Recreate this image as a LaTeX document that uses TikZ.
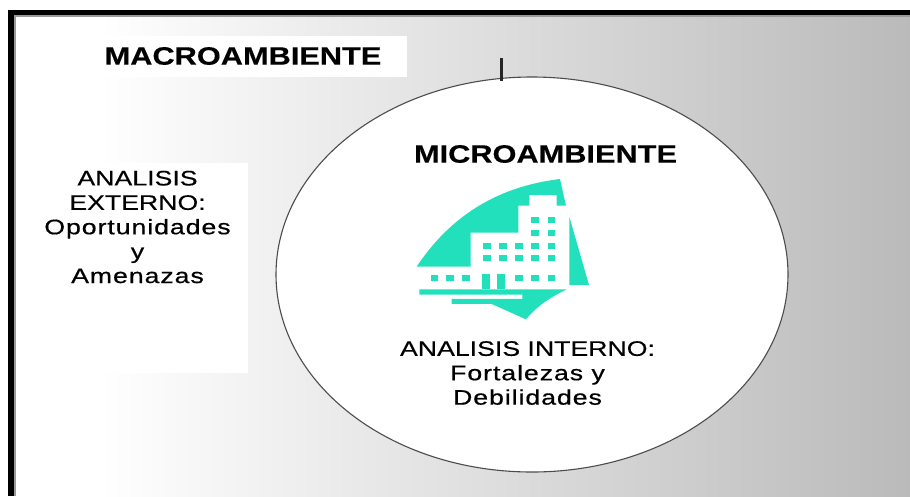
\documentclass[tikz,border=0pt]{standalone}
\usepackage{fontspec}
\setmainfont[FakeStretch=1.22,FakeBold=0.3]{Liberation Sans}
\newfontfamily\capsfont[FakeStretch=1.27,FakeBold=0.3]{Liberation Sans}
\newfontfamily\spacedfont[FakeStretch=1.27,FakeBold=0.6,LetterSpace=4.5]{Liberation Sans}
\usetikzlibrary{shapes.geometric}
\definecolor{tealgreen}{HTML}{22E0BC}
\tikzset{
    boldlabel/.style={font=\bfseries\fontsize{25.2}{25.2}\selectfont, inner sep=0pt},
    textlabel/.style={font=\fontsize{21}{24.4}\selectfont, align=center, inner sep=0pt},
    whitebox/.style={fill=white, draw=none},
    window/.style={fill=tealgreen, draw=none},
}
\begin{document}
\begin{tikzpicture}[x=1pt, y=-1pt]
    \useasboundingbox (0,0) rectangle (910,496);
    \fill[white] (0,0) rectangle (910,496);

    % background
    \shade[left color=white, middle color=black!11, right color=black!27] (100,17) rectangle (910,496);
    \fill[white] (16,17) rectangle (100,496);
    \fill[whitebox] (98,36) rectangle (407,77);
    \fill[whitebox] (50,163) rectangle (248,373);

    % frame
    \fill[black] (8,10) rectangle (910,15);
    \fill[black] (8,10) rectangle (14,496);
    \fill[black!40] (14,15) rectangle (910,17);
    \fill[black!40] (14,15) rectangle (16,496);

    \draw node[boldlabel] (macro) at (243,56) {MACROAMBIENTE};
    \draw node[textlabel] (externo) at (137.5,227) {\capsfont ANALISIS\\\capsfont EXTERNO:\\\spacedfont Oportunidades\\\spacedfont y\\\spacedfont Amenazas};

    \draw node[ellipse, draw=black!70, fill=white, line width=1.1pt, inner sep=0pt,
        minimum width=512pt, minimum height=395pt] (micro) at (532,274.5) {};
    \coordinate (ticktop) at (501.5,58);
    \coordinate (tickend) at (501.5,81);
    \draw[line width=2.4pt, black!85] (ticktop) -- (tickend);

    \draw node[boldlabel] (microtitle) at (545.5,154) {MICROAMBIENTE};
    \draw node[textlabel] (interno) at (527.5,373) {\capsfont ANALISIS INTERNO:\\\spacedfont Fortalezas y\\\spacedfont Debilidades};

    % building
    \begin{scope}[shift={(400,160)}, x=0.3333pt, y=-0.3333pt]
        \fill[tealgreen] (50,320) .. controls (150,170) and (290,80) .. (480,57)
            -- (498,137) -- (470,137) -- (470,105) -- (388,105) -- (388,137) -- (355,137)
            -- (355,218) -- (212,218) -- (212,320) -- cycle;
        \fill[tealgreen] (508,170) -- (567,375) -- (508,375) -- cycle;
        \fill[tealgreen] (58,388) -- (500,388) .. controls (445,415) and (410,440) .. (378,478)
            -- (275,432) -- (155,432) -- (155,417) -- (367,417) -- (367,404) -- (58,404) -- cycle;
        \fill[tealgreen] (245,342) rectangle (270,388);
        \fill[tealgreen] (290,342) rectangle (315,388);
        \foreach \wx in {394,443} {
            \fill[window] (\wx,171) rectangle +(23,18);
            \fill[window] (\wx,210) rectangle +(23,18);
        }
        \foreach \wx in {250,297,346,394,443} {
            \fill[window] (\wx,249) rectangle +(23,18);
            \fill[window] (\wx,286) rectangle +(23,18);
        }
        \foreach \wx in {92,139,187,346,394,443} {
            \fill[window] (\wx,345) rectangle +(23,18);
        }
    \end{scope}
\end{tikzpicture}
\end{document}
